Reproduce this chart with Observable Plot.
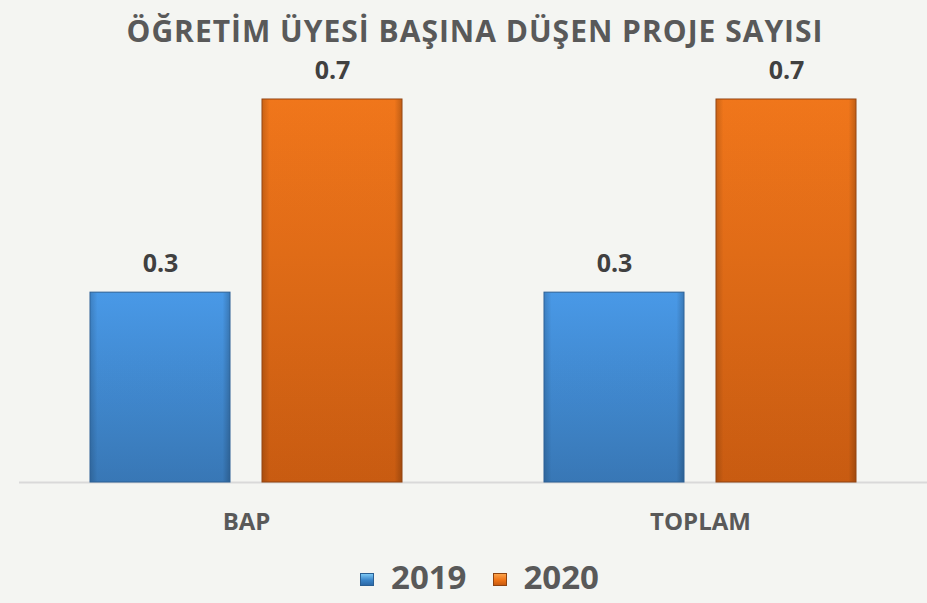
<!DOCTYPE html>
<html>
<head>
<meta charset="utf-8">
<script src="https://cdn.jsdelivr.net/npm/d3@7"></script>
<script src="https://cdn.jsdelivr.net/npm/@observablehq/plot@0.6"></script>
<style>
  html, body { margin: 0; padding: 0; background: #f4f5f2; }
  body { width: 927px; height: 603px; overflow: hidden; font-family: "Open Sans", "Noto Sans", sans-serif; }
  #title { height: 50px; line-height: 62px; text-align: center; font-weight: 700; font-size: 30px; letter-spacing: 1px; padding-left: 23px; box-sizing: border-box; color: #595959; white-space: nowrap; }
  #legend { height: 53px; display: flex; justify-content: center; align-items: center; font-weight: 700; font-size: 33px; color: #595959; padding-left: 32px; box-sizing: border-box; }
  .item { display: flex; align-items: center; margin: 0 13px; }
  .sw { width: 14px; height: 13px; margin-right: 17px; margin-top: 6px; box-sizing: border-box; }
  svg { display: block; }
</style>
</head>
<body>
<div id="title">ÖĞRETİM ÜYESİ BAŞINA DÜŞEN PROJE SAYISI</div>
<div id="chart"></div>
<div id="legend"></div>
<script>
const categories = ["BAP", "TOPLAM"];
const years = ["2019", "2020"];
const values2019 = [0.347, 0.347];
const values2020 = [0.70, 0.70];
const yearColors = ["url(#gBlue)", "url(#gOrange)"];
const yearStrokes = ["#2a5f93", "#8f4310"];

const data = [];
categories.forEach((c, i) => {
  data.push({category: c, year: years[0], value: values2019[i]});
  data.push({category: c, year: years[1], value: values2020[i]});
});

const fmt = d3.format(".1f");

const chart = Plot.plot({
  width: 927,
  height: 500,
  marginLeft: 19,
  marginRight: 0,
  marginTop: 49,
  marginBottom: 68,
  style: {background: "transparent", fontFamily: "'Open Sans', sans-serif"},
  fx: {domain: categories, padding: 0, axis: null},
  x: {domain: years, paddingInner: 0.185, paddingOuter: 0.405, axis: null},
  y: {domain: [0, 0.7], axis: null},
  color: {domain: years, range: yearColors},
  marks: [
    Plot.ruleY([0], {stroke: "#d9d9d9", strokeWidth: 2}),
    Plot.barY(data, {fx: "category", x: "year", y: "value", fill: "year",
      stroke: d => d.year === years[0] ? yearStrokes[0] : yearStrokes[1], strokeWidth: 1}),
    Plot.barY(data, {fx: "category", x: "year", y: "value", fill: "url(#gEdge)", inset: 0.5}),
    Plot.text(data, {fx: "category", x: "year", y: "value", text: d => fmt(d.value),
      dy: -29, fill: "#404040", fontSize: 25, fontWeight: 700}),
    Plot.axisFx({anchor: "bottom", tickSize: 0, tickPadding: 30, fontSize: 24, fontWeight: 700, color: "#595959", label: null})
  ]
});

// gradients
const ns = "http://www.w3.org/2000/svg";
const defs = document.createElementNS(ns, "defs");
defs.innerHTML = `
<linearGradient id="gBlue" x1="0" y1="0" x2="0" y2="1">
  <stop offset="0" stop-color="#4c9ff0"/>
  <stop offset="1" stop-color="#3a7cbd"/>
</linearGradient>
<linearGradient id="gOrange" x1="0" y1="0" x2="0" y2="1">
  <stop offset="0" stop-color="#fa7b1c"/>
  <stop offset="1" stop-color="#d05f12"/>
</linearGradient>
<linearGradient id="gEdge" x1="0" y1="0" x2="1" y2="0">
  <stop offset="0" stop-color="#000" stop-opacity="0.18"/>
  <stop offset="0.05" stop-color="#000" stop-opacity="0.04"/>
  <stop offset="0.95" stop-color="#000" stop-opacity="0.04"/>
  <stop offset="1" stop-color="#000" stop-opacity="0.22"/>
</linearGradient>`;
chart.insertBefore(defs, chart.firstChild);
document.getElementById("chart").appendChild(chart);

const legend = document.getElementById("legend");
const swatchGrad = [
  "linear-gradient(#7cc8f5, #3b85c9 55%, #2c69a8)",
  "linear-gradient(#fba24a, #ef7416 55%, #c85a10)"
];
years.forEach((y, i) => {
  const it = document.createElement("div");
  it.className = "item";
  const sw = document.createElement("div");
  sw.className = "sw";
  sw.style.background = swatchGrad[i];
  sw.style.border = "1px solid " + yearStrokes[i];
  it.appendChild(sw);
  const t = document.createElement("span");
  t.textContent = y;
  it.appendChild(t);
  legend.appendChild(it);
});
</script>
</body>
</html>
